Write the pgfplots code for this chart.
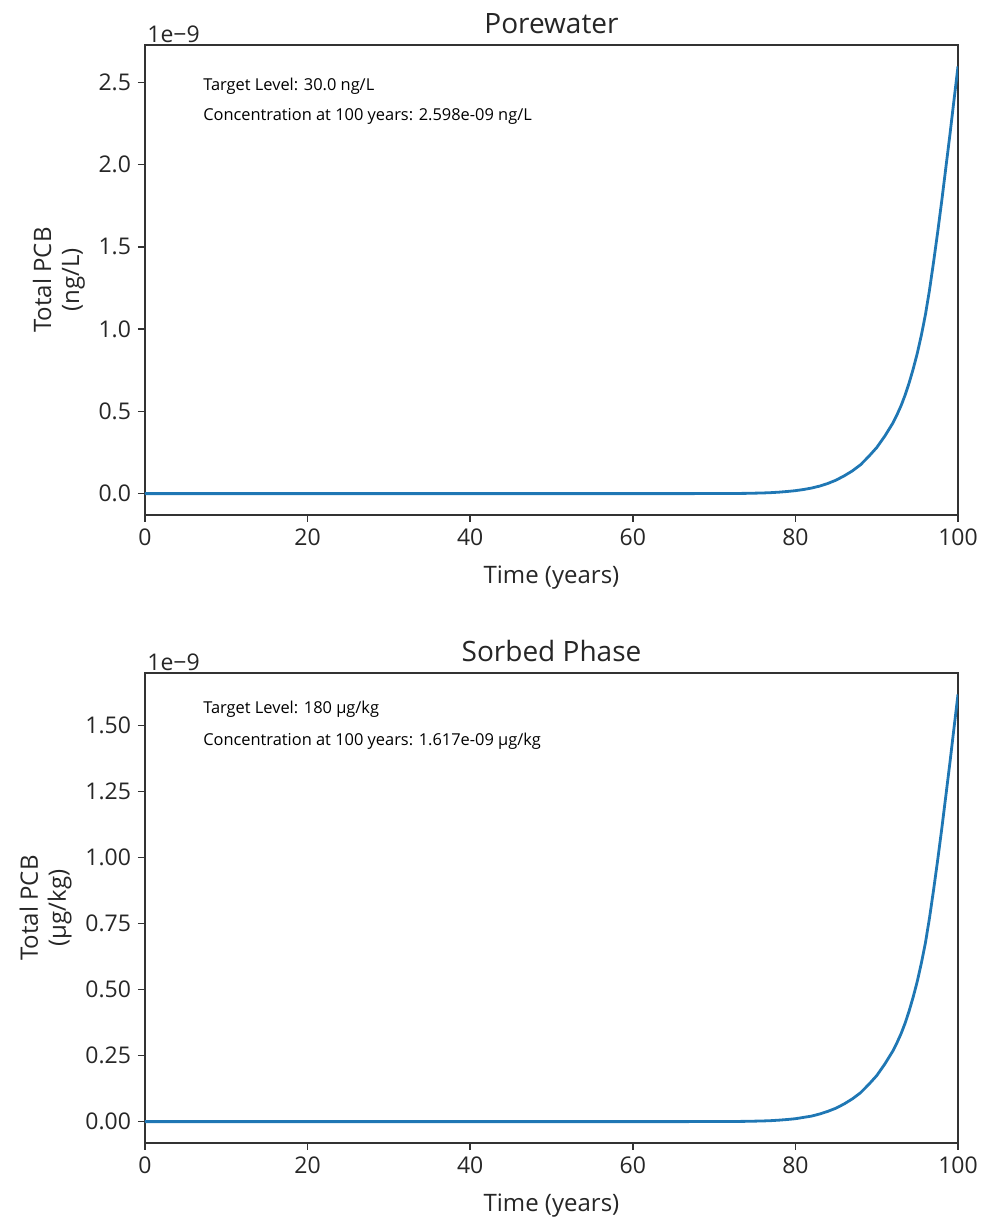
\documentclass[border=0pt]{standalone}
\usepackage{fontspec}
\setmainfont{Open Sans}
\usepackage{pgfplots}
\pgfplotsset{compat=1.18}
\definecolor{mplblue}{HTML}{1F77B4}
\definecolor{spine}{HTML}{333333}

\pgfplotstableread{
x y
0 0
10 0
20 0
30 0
40 0
50 0
60 0
65 0.00003
70 0.0003
72 0.0007
74 0.0017
76 0.004
77 0.006
78 0.009
79 0.013
80 0.018
81 0.025
82 0.034
83 0.046
84 0.062
85 0.082
86 0.108
87 0.138
88 0.175
89 0.225
90 0.28
91 0.35
92 0.43
92.5 0.48
93 0.535
93.5 0.60
94 0.675
94.5 0.76
95 0.855
95.5 0.965
96 1.09
96.5 1.24
97 1.41
97.5 1.59
98 1.78
98.5 1.98
99 2.18
99.5 2.39
100 2.598
}\porewater

\pgfplotstableread{
x y
0 0
10 0
20 0
30 0
40 0
50 0
60 0
65 0.00002
70 0.0002
72 0.0004
74 0.0011
76 0.0025
77 0.0037
78 0.0056
79 0.008
80 0.011
81 0.016
82 0.021
83 0.029
84 0.039
85 0.051
86 0.067
87 0.086
88 0.109
89 0.140
90 0.174
91 0.218
92 0.268
92.5 0.299
93 0.333
93.5 0.373
94 0.420
94.5 0.473
95 0.532
95.5 0.601
96 0.678
96.5 0.772
97 0.878
97.5 0.990
98 1.108
98.5 1.232
99 1.357
99.5 1.488
100 1.617
}\sorbed

\pgfplotsset{
  common/.style={
    scale only axis, width=406.5pt, height=235pt,
    xmin=0, xmax=100, xtick={0,20,40,60,80,100},
    xtick pos=bottom, ytick pos=left,
    tick align=outside, major tick length=3.5pt,
    tick style={spine, line width=0.8pt},
    axis line style={spine, line width=0.8pt},
    /pgf/number format/assume math mode=true,
    tick label style={font=\fontsize{11.5}{13}\selectfont, text=black!85},
    label style={font=\fontsize{12}{14}\selectfont, text=black!85},
    title style={font=\fontsize{14}{16}\selectfont, text=black!85, yshift=-4pt},
    ylabel style={align=center},
    xlabel style={yshift=-3pt},
    xlabel={Time (years)},
  }
}

\begin{document}
\begin{tikzpicture}
\path[use as bounding box] (0,0) rectangle (493.5pt,613pt);
\begin{axis}[common, at={(72.5pt,355.5pt)}, anchor=south west,
  title={Porewater},
  ymin=-0.1299, ymax=2.7279,
  ytick={0,0.5,1.0,1.5,2.0,2.5},
  yticklabel style={/pgf/number format/fixed,/pgf/number format/fixed zerofill,/pgf/number format/precision=1},
  ylabel={Total PCB\\(ng/L)},
  extra description/.code={
    \node[anchor=west, font=\fontsize{8.2}{10}\selectfont] at (0.063,0.912) {Target Level: 30.0 ng/L};
    \node[anchor=west, font=\fontsize{8.2}{10}\selectfont] at (0.063,0.849) {Concentration at 100 years: 2.598e-09 ng/L};
    \node[anchor=south west, inner sep=1pt, font=\fontsize{11.5}{13}\selectfont, text=black!85] at (0,1) {1e−9};
  },
]
\addplot[mplblue, line width=1.4pt] table[x=x, y=y] {\porewater};
\end{axis}

\begin{axis}[common, at={(72.5pt,41.5pt)}, anchor=south west,
  title={Sorbed Phase},
  ymin=-0.0809, ymax=1.698,
  ytick={0,0.25,0.5,0.75,1.0,1.25,1.5},
  yticklabel style={/pgf/number format/fixed,/pgf/number format/fixed zerofill,/pgf/number format/precision=2},
  ylabel={Total PCB\\(μg/kg)},
  extra description/.code={
    \node[anchor=west, font=\fontsize{8.2}{10}\selectfont] at (0.063,0.922) {Target Level: 180 μg/kg};
    \node[anchor=west, font=\fontsize{8.2}{10}\selectfont] at (0.063,0.855) {Concentration at 100 years: 1.617e-09 μg/kg};
    \node[anchor=south west, inner sep=1pt, font=\fontsize{11.5}{13}\selectfont, text=black!85] at (0,1) {1e−9};
  },
]
\addplot[mplblue, line width=1.4pt] table[x=x, y=y] {\sorbed};
\end{axis}
\end{tikzpicture}
\end{document}
